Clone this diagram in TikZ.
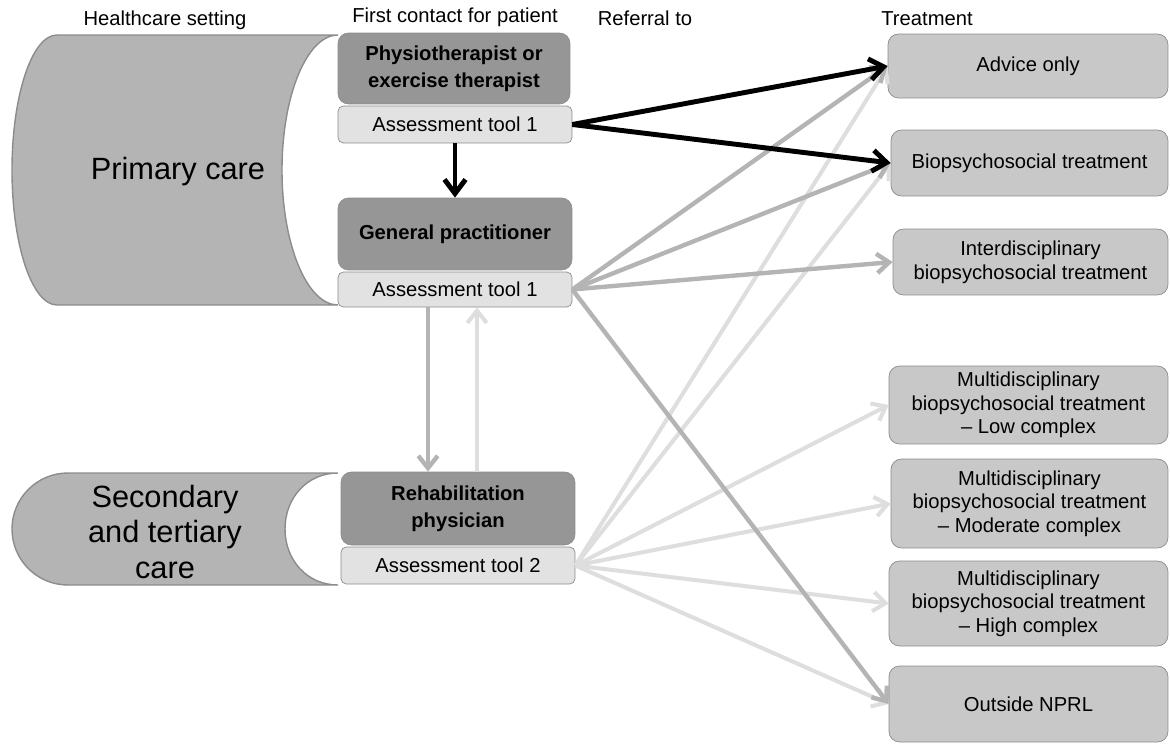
\documentclass[tikz,border=0pt]{standalone}
\usepackage{fontspec}
\setmainfont{Liberation Sans}
\usetikzlibrary{arrows.meta}
\definecolor{settingcolor}{RGB}{180,180,180}
\definecolor{edgecolor}{RGB}{140,140,140}
\definecolor{rolecolor}{RGB}{150,150,150}
\definecolor{toolcolor}{RGB}{226,226,226}
\definecolor{treatcolor}{RGB}{200,200,200}
\definecolor{midarrowcolor}{RGB}{180,180,180}
\definecolor{lightarrowcolor}{RGB}{222,222,222}

\begin{document}
\begin{tikzpicture}[x=0.02cm, y=-0.02cm,
    every node/.style={font=\fontsize{11.5}{13.4}\selectfont, align=center},
    setting/.style={draw=edgecolor, fill=settingcolor, line width=0.8pt},
    rolebox/.style={draw=edgecolor, fill=rolecolor, rounded corners=6pt, inner sep=0pt,
        minimum width=4.68cm, font=\fontsize{11.5}{15.3}\selectfont\bfseries},
    toolbox/.style={draw=edgecolor, fill=toolcolor, rounded corners=3pt, inner sep=0pt,
        minimum width=4.68cm, minimum height=0.72cm},
    treatbox/.style={draw=edgecolor, fill=treatcolor, rounded corners=6pt, inner sep=0pt},
    blackarrow/.style={-{Straight Barb[length=8pt,width=12pt]}, line width=2.8pt, black},
    midarrow/.style={-{Straight Barb[length=7pt,width=11pt]}, line width=2.5pt, midarrowcolor},
    lightarrow/.style={-{Straight Barb[length=7pt,width=11pt]}, line width=2.3pt, lightarrowcolor}]
    % 医疗层级 -> 首诊 -> 治疗
    \useasboundingbox (0,0) rectangle (1170,744);

    \draw[setting] (338,35) -- (57,35) .. controls (32,35) and (12,95.5) .. (12,170)
        .. controls (12,244.5) and (32,305) .. (57,305) -- (338,305)
        .. controls (307,305) and (282,244.5) .. (282,170)
        .. controls (282,95.5) and (307,35) .. (338,35) -- cycle;
    \draw[setting] (338,473) -- (68,473) .. controls (37,473) and (12,498) .. (12,529)
        .. controls (12,560) and (37,585) .. (68,585) -- (338,585)
        .. controls (307,585) and (285,560) .. (285,529)
        .. controls (285,498) and (307,473) .. (338,473) -- cycle;
    \node[font=\fontsize{17.5}{20}\selectfont] (primary) at (178,172) {Primary care};
    \node[font=\fontsize{17.5}{20}\selectfont] (secondary) at (165,532) {Secondary\\and tertiary\\care};

    \node (hsetting) at (165,20) {Healthcare setting};
    \node (hcontact) at (455,17) {First contact for patient};
    \node (hreferral) at (645,18) {Referral to};
    \node (htreatment) at (927,19) {Treatment};

    \node[rolebox, minimum width=4.64cm, minimum height=1.42cm] (physio) at (454,68.5) {Physiotherapist or\\exercise therapist};
    \node[toolbox, minimum height=0.74cm] (toolphysio) at (455,124.5) {Assessment tool 1};
    \node[rolebox, minimum height=1.44cm] (gp) at (455,234) {General practitioner};
    \node[toolbox, minimum height=0.70cm] (toolgp) at (455,289.5) {Assessment tool 1};
    \node[rolebox, minimum height=1.46cm] (rehab) at (458,508.5) {Rehabilitation\\physician};
    \node[toolbox, minimum height=0.74cm] (toolrehab) at (458,565.5) {Assessment tool 2};

    \node[treatbox, minimum width=5.6cm, minimum height=1.28cm] (advice) at (1028,66) {Advice only};
    \node[treatbox, minimum width=5.54cm, minimum height=1.32cm] (bps) at (1029.5,163) {Biopsychosocial treatment};
    \node[treatbox, minimum width=5.5cm, minimum height=1.32cm] (inter) at (1030.5,262) {Interdisciplinary\\biopsychosocial treatment};
    \node[treatbox, minimum width=5.58cm, minimum height=1.56cm] (multilow) at (1028.5,405) {Multidisciplinary\\biopsychosocial treatment\\– Low complex};
    \node[treatbox, minimum width=5.54cm, minimum height=1.78cm] (multimod) at (1029.5,503.5) {Multidisciplinary\\biopsychosocial treatment\\– Moderate complex};
    \node[treatbox, minimum width=5.58cm, minimum height=1.70cm] (multihigh) at (1028.5,603.5) {Multidisciplinary\\biopsychosocial treatment\\– High complex};
    \node[treatbox, minimum width=5.58cm, minimum height=1.52cm] (outside) at (1028.5,704) {Outside NPRL};

    \draw[lightarrow] ([xshift=0.44cm]toolgp.south |- rehab.north) -- ([xshift=0.44cm]toolgp.south);
    \foreach \target in {advice, bps, multilow, multimod, multihigh, outside}
        \draw[lightarrow] (toolrehab.east) -- (\target.west);

    \draw[midarrow] ([xshift=-0.54cm]toolgp.south) -- ([xshift=-0.54cm]toolgp.south |- rehab.north);
    \foreach \target in {advice, bps, inter, outside}
        \draw[midarrow] (toolgp.east) -- (\target.west);

    \draw[blackarrow] (toolphysio.south) -- (toolphysio.south |- gp.north);
    \draw[blackarrow] (toolphysio.east) -- (advice.west);
    \draw[blackarrow] (toolphysio.east) -- (bps.west);
\end{tikzpicture}
\end{document}
